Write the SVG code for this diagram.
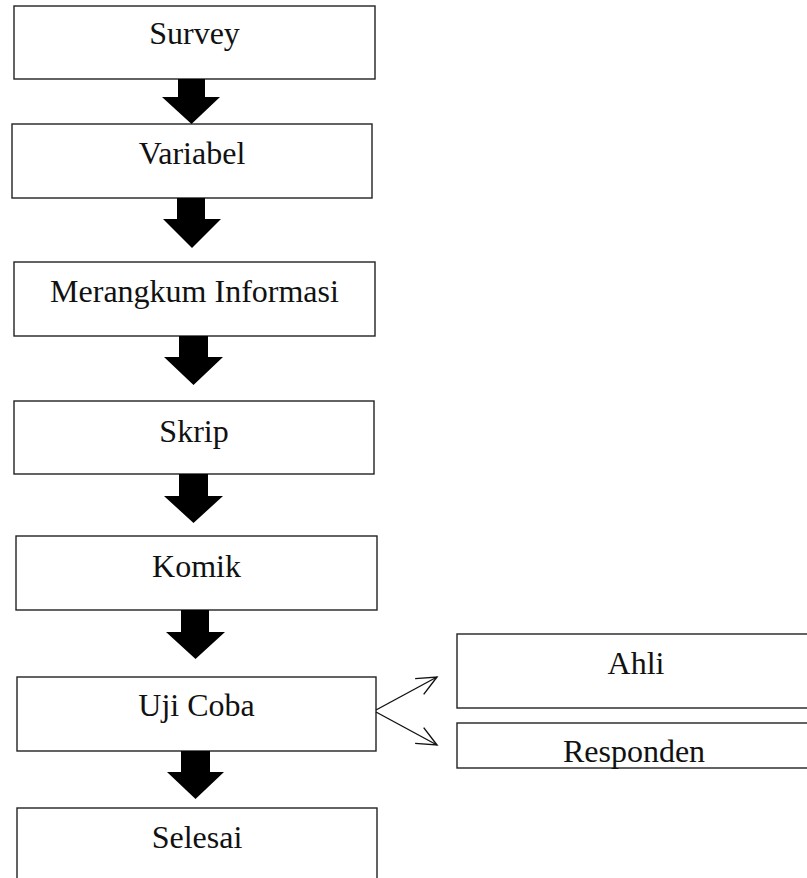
<svg xmlns="http://www.w3.org/2000/svg" width="807" height="878" viewBox="0 0 807 878">
<style>
.box{fill:#fff;stroke:#222;stroke-width:1.4}
.lbl{font-family:"Liberation Serif","Times New Roman",serif;font-size:32px;fill:#111;text-anchor:middle}
.blk{fill:#000}
.thin{stroke:#111;stroke-width:1.4;fill:none}
</style>
<defs>
<marker id="vhead" markerUnits="userSpaceOnUse" markerWidth="24" markerHeight="22" viewBox="0 0 24 22" refX="22" refY="11" orient="auto">
<path d="M2,2 L22,11 L2,20" fill="none" stroke="#111" stroke-width="1.4"/>
</marker>
</defs>
<rect width="807" height="878" fill="#fff"/>
<g id="n1"><rect class="box" x="14" y="6" width="361" height="73"/><text class="lbl" x="194.5" y="44">Survey</text></g>
<g id="n2"><rect class="box" x="12" y="124" width="360" height="74"/><text class="lbl" x="192" y="164">Variabel</text></g>
<g id="n3"><rect class="box" x="14" y="262" width="361" height="74"/><text class="lbl" x="194.5" y="302">Merangkum Informasi</text></g>
<g id="n4"><rect class="box" x="14" y="401" width="360" height="73"/><text class="lbl" x="194" y="442">Skrip</text></g>
<g id="n5"><rect class="box" x="16" y="536" width="361" height="74"/><text class="lbl" x="196.5" y="577">Komik</text></g>
<g id="n6"><rect class="box" x="17" y="677" width="359" height="74"/><text class="lbl" x="196.5" y="716">Uji Coba</text></g>
<g id="n7"><rect class="box" x="17" y="808" width="360" height="90"/><text class="lbl" x="197" y="848">Selesai</text></g>
<g id="n8"><rect class="box" x="457" y="634" width="358" height="74"/><text class="lbl" x="636" y="674">Ahli</text></g>
<g id="n9"><rect class="box" x="457" y="723" width="358" height="45"/><text class="lbl" x="634" y="762">Responden</text></g>
<g id="connectors">
<polygon class="blk" points="178,79 205,79 205,97 220,97 191.5,124 162,97 178,97"/>
<polygon class="blk" points="177,198 205,198 205,219 221,219 192,248 163,219 177,219"/>
<polygon class="blk" points="179,336 208,336 208,357 223,357 193.5,385 164,357 179,357"/>
<polygon class="blk" points="179,474 208,474 208,496 223,496 193.5,523 164,496 179,496"/>
<polygon class="blk" points="181,610 209,610 209,632 225,632 195.5,659 166,632 181,632"/>
<polygon class="blk" points="181,751 210,751 210,772 224,772 195.5,799 167,772 181,772"/>
<line class="thin" x1="376" y1="710" x2="437" y2="677" marker-end="url(#vhead)"/>
<line class="thin" x1="376" y1="712" x2="437" y2="745" marker-end="url(#vhead)"/>
</g>
</svg>
